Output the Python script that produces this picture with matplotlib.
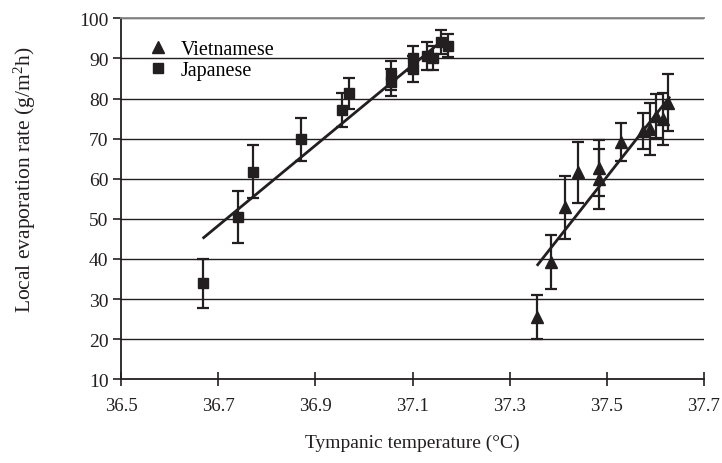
import matplotlib
matplotlib.use("Agg")
import matplotlib.pyplot as plt
import numpy as np

# ---- data ----
jp_x = [36.668, 36.741, 36.771, 36.870, 36.955, 36.970, 37.055, 37.055, 37.100, 37.100, 37.129, 37.143, 37.158, 37.173]
jp_y = [33.9, 50.5, 61.8, 69.8, 77.2, 81.3, 84.0, 85.8, 87.4, 90.0, 90.7, 90.0, 94.0, 93.2]
jp_err = [6.0, 6.4, 6.5, 5.3, 4.3, 3.8, 3.3, 3.6, 3.2, 3.2, 3.5, 3.0, 3.0, 2.8]

vn_x = [37.356, 37.385, 37.413, 37.441, 37.484, 37.484, 37.529, 37.574, 37.588, 37.601, 37.615, 37.625]
vn_y = [25.5, 39.2, 52.9, 61.6, 62.6, 60.0, 69.2, 72.0, 72.4, 75.7, 74.9, 79.0]
vn_err = [5.4, 6.7, 7.9, 7.6, 7.0, 7.5, 4.7, 4.5, 6.5, 5.5, 6.5, 7.0]

# regression lines (end points)
jp_fit_x = [36.668, 37.155]
jp_fit_y = [45.1, 93.8]
vn_fit_x = [37.356, 37.630]
vn_fit_y = [38.3, 80.5]

x_ticks = [36.5, 36.7, 36.9, 37.1, 37.3, 37.5, 37.7]
y_ticks = [10, 20, 30, 40, 50, 60, 70, 80, 90, 100]

plt.rcParams['font.family'] = ['Liberation Serif', 'DejaVu Serif']
plt.rcParams['mathtext.fontset'] = 'custom'
plt.rcParams['mathtext.rm'] = 'Liberation Serif'
plt.rcParams['mathtext.it'] = 'Liberation Serif:italic'

ink = '#231f20'

fig = plt.figure(figsize=(7.22, 4.64), dpi=100)
ax = fig.add_axes([121/722, 1 - 380.3/464, 583/722, 361/464])

for yv in y_ticks[1:]:
    ax.axhline(yv, color=ink, lw=1.0, zorder=1)

ax.plot(jp_fit_x, jp_fit_y, color=ink, lw=2.0, zorder=3, solid_capstyle='butt')
ax.plot(vn_fit_x, vn_fit_y, color=ink, lw=2.0, zorder=3, solid_capstyle='butt')

ax.errorbar(jp_x, jp_y, yerr=jp_err, fmt='s', color=ink, ms=7, ecolor=ink,
            elinewidth=1.6, capsize=4.5, capthick=1.6, zorder=4, label='Japanese')
ax.errorbar(vn_x, vn_y, yerr=vn_err, fmt='^', color=ink, ms=8, ecolor=ink,
            elinewidth=1.6, capsize=4.5, capthick=1.6, zorder=4, label='Vietnamese')

ax.set_xlim(36.5, 37.7)
ax.set_ylim(10, 100)
ax.set_xticks(x_ticks)
ax.set_xticklabels([f"{v:.1f}" for v in x_ticks])
ax.set_yticks(y_ticks)

ax.spines['right'].set_visible(False)
ax.spines['top'].set_color('#888888')
ax.spines['top'].set_linewidth(1.3)
ax.spines['left'].set_color(ink)
ax.spines['bottom'].set_color(ink)
ax.spines['left'].set_linewidth(1.3)
ax.spines['bottom'].set_linewidth(1.3)

ax.tick_params(axis='x', direction='inout', length=10, width=1.2, colors=ink,
               labelsize=13.5, pad=8)
ax.tick_params(axis='y', direction='out', length=6, width=1.2, colors=ink,
               labelsize=14, pad=3)

ax.set_xlabel('Tympanic temperature (°C)', fontsize=14, color=ink, labelpad=14)
ax.set_ylabel('Local evaporation rate (g/m$^2$h)', fontsize=15.5, color=ink)
ax.yaxis.set_label_coords(-0.142, 0.555)

h, l = ax.get_legend_handles_labels()
order = [l.index('Vietnamese'), l.index('Japanese')]
leg = ax.legend([h[i][0] for i in order], [l[i] for i in order], loc='upper left',
                bbox_to_anchor=(0.047, 0.94), frameon=False, fontsize=14.5,
                handlelength=1.0, handletextpad=0.6, labelspacing=0.08,
                borderaxespad=0, borderpad=0, numpoints=1)

fig.savefig('out.png', dpi=100)
